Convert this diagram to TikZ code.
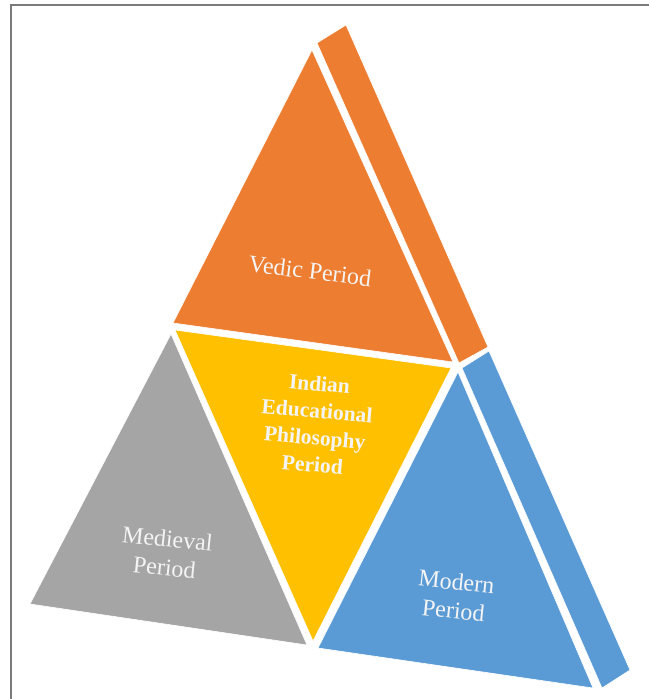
\documentclass[tikz,border=0pt]{standalone}
\usepackage{fontspec}
\setmainfont{Liberation Serif}
\definecolor{vedicorange}{HTML}{ED7D31}
\definecolor{coreyellow}{HTML}{FFC000}
\definecolor{medgray}{HTML}{A5A5A5}
\definecolor{modblue}{HTML}{5B9BD5}
\definecolor{labelwhite}{HTML}{F4F4F4}
\definecolor{framegray}{HTML}{7A7A7A}
\begin{document}
\begin{tikzpicture}[x=1pt,y=-1pt,
  face/.style={draw=white,line width=0.6pt,line join=round},
  facelabel/.style={text=labelwhite,font=\fontsize{24}{29}\selectfont,align=center,inner sep=0pt},
  corelabel/.style={facelabel,font=\bfseries\fontsize{21.5}{27}\selectfont}]
  \useasboundingbox (0,0) rectangle (649,699);
  \fill[white] (0,0) rectangle (649,699);
  % page frame: only its top and left edges fall inside the picture
  \draw[framegray,line width=1.5pt] (11,699) -- (11,5) -- (649,5);

  % top face and its side strip
  \path[face,fill=vedicorange] (312,50) -- (173,323) -- (453,362) -- cycle;
  \path[face,fill=vedicorange] (317,43) -- (346,25) -- (488,347) -- (459,363) -- cycle;
  % centre inverted triangle
  \path[face,fill=coreyellow] (175,330) -- (451,368) -- (313,641) -- cycle;
  % lower left face
  \path[face,fill=medgray] (171,334) -- (30,604) -- (307,645) -- cycle;
  % lower right face and its side strip
  \path[face,fill=modblue] (458,372) -- (318,648) -- (593,688) -- cycle;
  \path[face,fill=modblue] (462,368) -- (489,351) -- (630,670) -- (602,688) -- cycle;

  % labels
  \node[facelabel,rotate=-7] (vedic) at (310,271) {Vedic Period};
  \node[corelabel,rotate=-5] (core) at (316,424) {Indian\\Educational\\Philosophy\\Period};
  \node[facelabel,rotate=-6] (medieval) at (166,553) {Medieval\\Period};
  \node[facelabel,rotate=-6] (modern) at (455,596) {Modern\\Period};
\end{tikzpicture}
\end{document}
